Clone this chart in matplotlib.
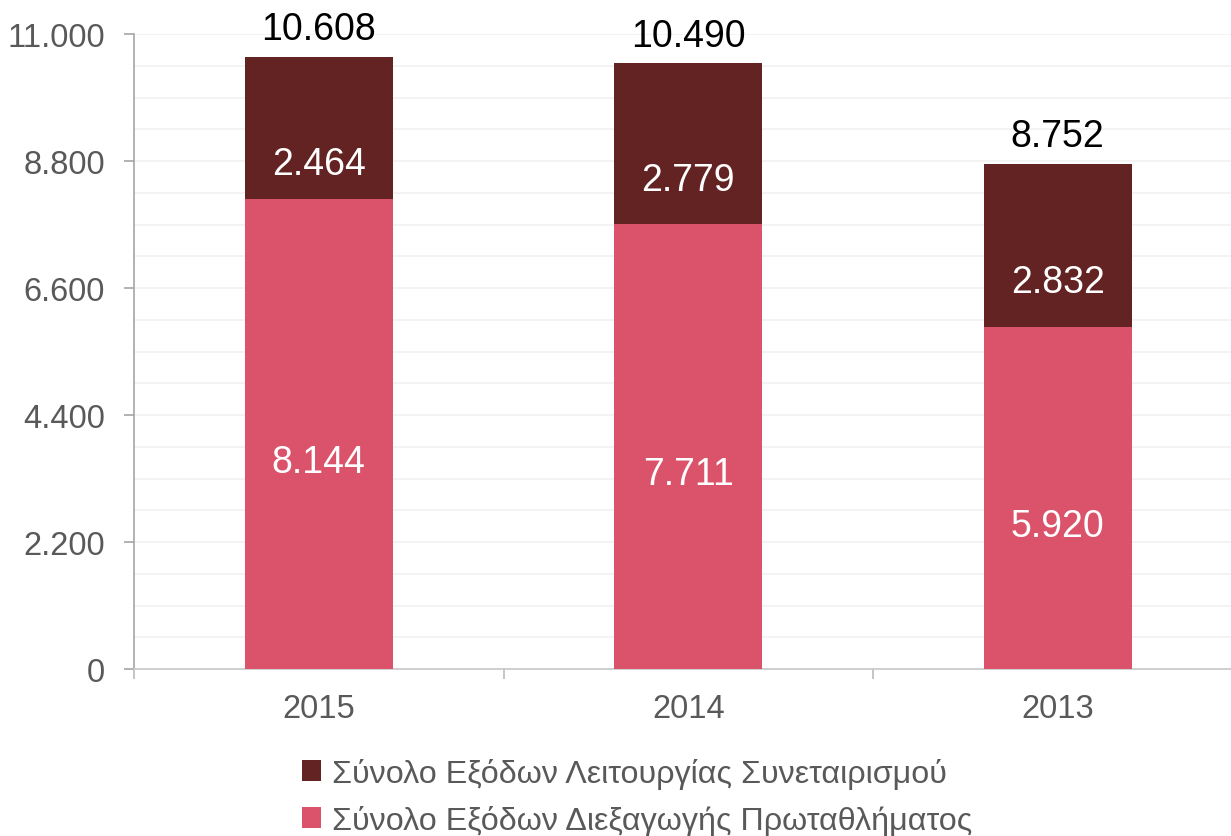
import matplotlib
matplotlib.use("Agg")
import matplotlib.pyplot as plt
from matplotlib.ticker import MultipleLocator, FuncFormatter, FixedLocator

years = ["2015", "2014", "2013"]
championship = [8144, 7711, 5920]   # Σύνολο Εξόδων Διεξαγωγής Πρωταθλήματος
operation = [2464, 2779, 2832]      # Σύνολο Εξόδων Λειτουργίας Συνεταιρισμού
totals = [10608, 10490, 8752]
yticks = [0, 2200, 4400, 6600, 8800, 11000]

label_op = "Σύνολο Εξόδων Λειτουργίας Συνεταιρισμού"
label_ch = "Σύνολο Εξόδων Διεξαγωγής Πρωταθλήματος"

DARK = "#622322"
PINK = "#DB536B"
GREY = "#595959"

plt.rcParams["font.family"] = ["Liberation Sans", "DejaVu Sans"]

def fmt(v):
    return f"{int(round(v)):,}".replace(",", ".")

fig = plt.figure(figsize=(12.31, 8.37), dpi=100)
ax = fig.add_axes([134 / 1231, 1 - 670 / 837, 3 * 369.5 / 1231, 635 / 837])

x = list(range(len(years)))
b1 = ax.bar(x, championship, width=0.4, color=PINK, label=label_ch, zorder=3)
b2 = ax.bar(x, operation, width=0.4, bottom=championship, color=DARK, label=label_op, zorder=3)

for i in x:
    ax.annotate(fmt(championship[i]), (i, championship[i] / 2), xytext=(0, -20),
                textcoords="offset points", ha="center", va="center",
                color="white", fontsize=27, zorder=4)
    ax.annotate(fmt(operation[i]), (i, championship[i] + operation[i] / 2), xytext=(0, -26),
                textcoords="offset points", ha="center", va="center",
                color="white", fontsize=27, zorder=4)
    ax.annotate(fmt(totals[i]), (i, totals[i]), xytext=(0, 20),
                textcoords="offset points", ha="center", va="center",
                color="black", fontsize=27, zorder=4)

ax.set_xlim(-0.5, 2.5)
ax.set_ylim(0, 11000)
ax.yaxis.set_major_locator(FixedLocator(yticks))
ax.yaxis.set_minor_locator(MultipleLocator(550))
ax.yaxis.set_major_formatter(FuncFormatter(lambda v, p: fmt(v)))
ax.grid(axis="y", which="both", color="#f0f0f0", linewidth=1.1, zorder=0)

ax.set_xticks(x)
ax.set_xticklabels(years)
ax.xaxis.set_minor_locator(FixedLocator([-0.5, 0.5, 1.5, 2.5]))
ax.tick_params(axis="x", which="major", length=0, pad=17, labelsize=23.5, labelcolor=GREY)
ax.tick_params(axis="x", which="minor", length=7, color="#bbbbbb", width=1.2)
ax.tick_params(axis="y", which="major", length=7, color="#a6a6a6", width=1.2,
               labelsize=23.5, labelcolor=GREY, pad=14)
ax.tick_params(axis="y", which="minor", length=0)

for s in ["top", "right"]:
    ax.spines[s].set_visible(False)
ax.spines["left"].set_color("#a6a6a6")
ax.spines["left"].set_linewidth(1.2)
ax.spines["bottom"].set_color("#c8c8c8")
ax.spines["bottom"].set_linewidth(1.2)

leg = fig.legend(handles=[b2, b1], labels=[label_op, label_ch], loc="upper left",
                 bbox_to_anchor=(289 / 1231, 1 - 746 / 837), frameon=False,
                 fontsize=23.2, labelcolor=GREY, handlelength=0.6, handleheight=0.6,
                 handletextpad=0.35, labelspacing=0.5, borderaxespad=0)

fig.savefig("out.png", dpi=100)
